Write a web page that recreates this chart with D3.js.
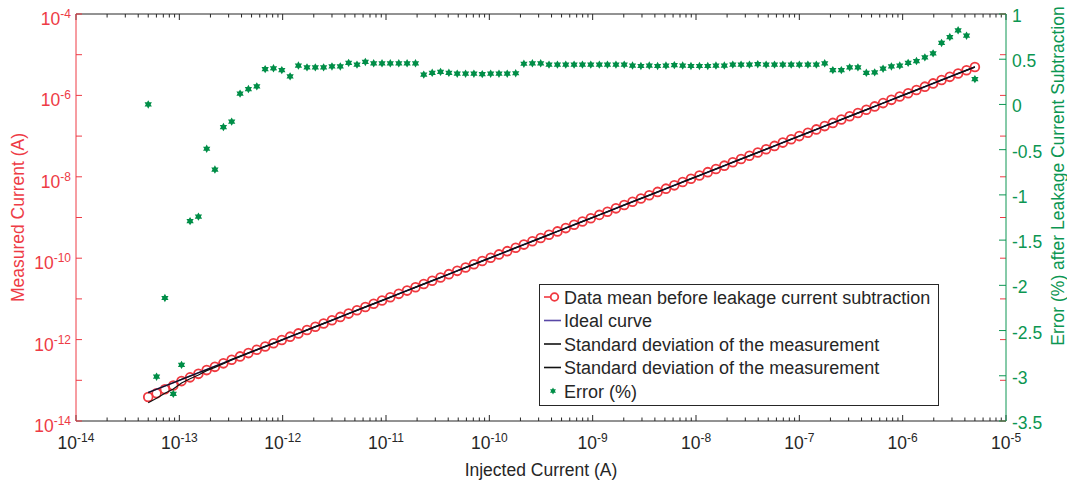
<!DOCTYPE html>
<html>
<head>
<meta charset="utf-8">
<script src="https://cdn.jsdelivr.net/npm/d3@7"></script>
<style>
  body { margin: 0; background: #fff; }
  svg text { font-family: "Liberation Sans", Arial, Helvetica, sans-serif; }
</style>
</head>
<body>
<div id="chart"></div>
<script>
// Injected current (A), log spaced sweep
const injectedCurrent = [
  5.00e-14, 6.02e-14, 7.25e-14, 8.74e-14, 1.05e-13, 1.27e-13, 1.53e-13, 1.84e-13, 2.21e-13, 2.67e-13,
  3.21e-13, 3.87e-13, 4.66e-13, 5.62e-13, 6.77e-13, 8.15e-13, 9.81e-13, 1.18e-12, 1.42e-12, 1.72e-12,
  2.07e-12, 2.49e-12, 3.00e-12, 3.61e-12, 4.35e-12, 5.24e-12, 6.31e-12, 7.60e-12, 9.15e-12, 1.10e-11,
  1.33e-11, 1.60e-11, 1.93e-11, 2.32e-11, 2.80e-11, 3.37e-11, 4.06e-11, 4.89e-11, 5.89e-11, 7.09e-11,
  8.54e-11, 1.03e-10, 1.24e-10, 1.49e-10, 1.80e-10, 2.16e-10, 2.61e-10, 3.14e-10, 3.78e-10, 4.56e-10,
  5.49e-10, 6.61e-10, 7.96e-10, 9.59e-10, 1.16e-9, 1.39e-9, 1.68e-9, 2.02e-9, 2.43e-9, 2.93e-9,
  3.53e-9, 4.25e-9, 5.12e-9, 6.17e-9, 7.43e-9, 8.94e-9, 1.08e-8, 1.30e-8, 1.56e-8, 1.88e-8,
  2.27e-8, 2.73e-8, 3.29e-8, 3.96e-8, 4.77e-8, 5.75e-8, 6.92e-8, 8.34e-8, 1.00e-7, 1.21e-7,
  1.46e-7, 1.76e-7, 2.11e-7, 2.55e-7, 3.07e-7, 3.69e-7, 4.45e-7, 5.36e-7, 6.46e-7, 7.78e-7,
  9.37e-7, 1.13e-6, 1.36e-6, 1.64e-6, 1.97e-6, 2.38e-6, 2.86e-6, 3.44e-6, 4.15e-6, 5.00e-6
];

// Measured mean before leakage subtraction (A)
const measuredMean = [
  3.90e-14, 4.82e-14, 6.02e-14, 7.43e-14, 9.56e-14, 1.18e-13, 1.44e-13, 1.78e-13, 2.14e-13, 2.61e-13,
  3.21e-13, 3.87e-13, 4.66e-13, 5.62e-13, 6.77e-13, 8.15e-13, 9.81e-13, 1.18e-12, 1.42e-12, 1.72e-12,
  2.07e-12, 2.49e-12, 3.00e-12, 3.61e-12, 4.35e-12, 5.24e-12, 6.31e-12, 7.60e-12, 9.15e-12, 1.10e-11,
  1.33e-11, 1.60e-11, 1.93e-11, 2.32e-11, 2.80e-11, 3.37e-11, 4.06e-11, 4.89e-11, 5.89e-11, 7.09e-11,
  8.54e-11, 1.03e-10, 1.24e-10, 1.49e-10, 1.80e-10, 2.16e-10, 2.61e-10, 3.14e-10, 3.78e-10, 4.56e-10,
  5.49e-10, 6.61e-10, 7.96e-10, 9.59e-10, 1.16e-9, 1.39e-9, 1.68e-9, 2.02e-9, 2.43e-9, 2.93e-9,
  3.53e-9, 4.25e-9, 5.12e-9, 6.17e-9, 7.43e-9, 8.94e-9, 1.08e-8, 1.30e-8, 1.56e-8, 1.88e-8,
  2.27e-8, 2.73e-8, 3.29e-8, 3.96e-8, 4.77e-8, 5.75e-8, 6.92e-8, 8.34e-8, 1.00e-7, 1.21e-7,
  1.46e-7, 1.76e-7, 2.11e-7, 2.55e-7, 3.07e-7, 3.69e-7, 4.45e-7, 5.36e-7, 6.46e-7, 7.78e-7,
  9.37e-7, 1.13e-6, 1.36e-6, 1.64e-6, 1.97e-6, 2.38e-6, 2.86e-6, 3.44e-6, 4.15e-6, 5.00e-6
];

// Standard deviation of the measurement, % of the mean
const stdPercent = [
  28, 25, 20.5, 17.6, 9.9, 7.5, 6.4, 3.1, 3.1, 2.0,
  1.5, 1.2, 1.0, 0.9, 0.8, 0.8, 0.8, 0.8, 0.8, 0.8,
  0.8, 0.8, 0.8, 0.8, 0.8, 0.8, 0.8, 0.8, 0.8, 0.8,
  0.8, 0.8, 0.8, 0.8, 0.8, 0.8, 0.8, 0.8, 0.8, 0.8,
  0.8, 0.8, 0.8, 0.8, 0.8, 0.8, 0.8, 0.8, 0.8, 0.8,
  0.8, 0.8, 0.8, 0.8, 0.8, 0.8, 0.8, 0.8, 0.8, 0.8,
  0.8, 0.8, 0.8, 0.8, 0.8, 0.8, 0.8, 0.8, 0.8, 0.8,
  0.8, 0.8, 0.8, 0.8, 0.8, 0.8, 0.8, 0.8, 0.8, 0.8,
  0.8, 0.8, 0.8, 0.8, 0.8, 0.8, 0.8, 0.8, 0.8, 0.8,
  0.8, 0.8, 0.8, 0.8, 0.8, 0.8, 0.8, 0.8, 0.8, 0.8
];

// Error (%) after leakage current subtraction
const errorPercent = [
  0.00, -3.01, -2.14, -3.20, -2.88, -1.29, -1.24, -0.49, -0.72, -0.25,
  -0.19, 0.12, 0.17, 0.20, 0.39, 0.40, 0.38, 0.31, 0.43, 0.41,
  0.41, 0.41, 0.42, 0.42, 0.46, 0.44, 0.47, 0.455, 0.455, 0.455,
  0.455, 0.455, 0.455, 0.33, 0.35, 0.36, 0.35, 0.34, 0.34, 0.34,
  0.335, 0.34, 0.34, 0.34, 0.345, 0.45, 0.455, 0.455, 0.44, 0.44,
  0.44, 0.44, 0.44, 0.44, 0.44, 0.44, 0.44, 0.44, 0.43, 0.425,
  0.43, 0.425, 0.43, 0.435, 0.43, 0.425, 0.425, 0.425, 0.43, 0.43,
  0.44, 0.44, 0.44, 0.445, 0.44, 0.44, 0.44, 0.44, 0.44, 0.44,
  0.44, 0.455, 0.38, 0.38, 0.41, 0.41, 0.35, 0.355, 0.395, 0.42,
  0.43, 0.46, 0.48, 0.52, 0.565, 0.68, 0.745, 0.82, 0.76, 0.28
];

// Tick labels
const xDecades = [-14, -13, -12, -11, -10, -9, -8, -7, -6, -5];
const leftDecades = [-4, -6, -8, -10, -12, -14];
const rightTicks = [1, 0.5, 0, -0.5, -1, -1.5, -2, -2.5, -3, -3.5];
const legendLabels = [
  "Data mean before leakage current subtraction",
  "Ideal curve",
  "Standard deviation of the measurement",
  "Standard deviation of the measurement",
  "Error (%)"
];

// Layout
const width = 1067, height = 484;
const plot = { left: 76, right: 1006, top: 14, bottom: 421 };

// Colours
const gray = "#262626";
const red = "#ee3b45";
const circleRed = "#f0383f";
const green = "#0c9652";
const starGreen = "#008e47";
const purple = "#5847a6";

const x = d3.scaleLog().domain([1e-14, 1e-5]).range([plot.left, plot.right]);
const yLeft = d3.scaleLog().domain([1e-14, 1e-4]).range([plot.bottom, plot.top]);
const yRight = d3.scaleLinear().domain([-3.5, 1]).range([plot.bottom, plot.top]);

const svg = d3.select("#chart")
  .append("svg")
  .attr("width", width)
  .attr("height", height)
  .style("display", "block");

svg.append("rect").attr("width", width).attr("height", height).attr("fill", "#fff");

// "10" with superscript exponent
function powLabel(text, exp) {
  text.append("tspan").text("10");
  text.append("tspan").attr("dy", -7).attr("font-size", 12).text(exp);
}

// hexagram marker path
function hexagram(r) {
  const pts = [];
  for (let k = 0; k < 12; k++) {
    const a = -Math.PI / 2 + k * Math.PI / 6;
    const rr = k % 2 === 0 ? r : r * 0.58;
    pts.push([Math.cos(a) * rr, Math.sin(a) * rr]);
  }
  return "M" + pts.map(p => p.join(",")).join("L") + "Z";
}

const isDecade = v => Math.abs(Math.log10(v) - Math.round(Math.log10(v))) < 1e-6;

// --- data layers ---
const idx = d3.range(injectedCurrent.length);

// measured mean circles
svg.append("g")
  .selectAll("circle")
  .data(idx)
  .enter()
  .append("circle")
  .attr("cx", i => x(injectedCurrent[i]))
  .attr("cy", i => yLeft(measuredMean[i]))
  .attr("r", 4.4)
  .attr("fill", "none")
  .attr("stroke", circleRed)
  .attr("stroke-width", 1.8);

// ideal curve
svg.append("path")
  .datum(idx)
  .attr("fill", "none")
  .attr("stroke", purple)
  .attr("stroke-width", 1.6)
  .attr("d", d3.line().x(i => x(injectedCurrent[i])).y(i => yLeft(injectedCurrent[i])));

// standard deviation bounds
[1, -1].forEach(sign => {
  svg.append("path")
    .datum(idx)
    .attr("fill", "none")
    .attr("stroke", "#111")
    .attr("stroke-width", 1.2)
    .attr("d", d3.line()
      .x(i => x(injectedCurrent[i]))
      .y(i => yLeft(measuredMean[i] * (1 + sign * stdPercent[i] / 100))));
});

// error points
svg.append("g")
  .selectAll("path")
  .data(idx)
  .enter()
  .append("path")
  .attr("transform", i => `translate(${x(injectedCurrent[i])},${yRight(errorPercent[i])})`)
  .attr("d", hexagram(4.2))
  .attr("fill", starGreen);

// --- axes ---
const axes = svg.append("g");

// box lines
axes.append("line").attr("x1", plot.left).attr("x2", plot.right).attr("y1", plot.bottom).attr("y2", plot.bottom)
  .attr("stroke", gray);
axes.append("line").attr("x1", plot.left).attr("x2", plot.right).attr("y1", plot.top).attr("y2", plot.top)
  .attr("stroke", gray);

// x ticks, bottom and top, pointing inward
x.ticks().forEach(v => {
  const len = isDecade(v) ? 6 : 3.5;
  const px = x(v);
  axes.append("line").attr("x1", px).attr("x2", px).attr("y1", plot.bottom).attr("y2", plot.bottom - len)
    .attr("stroke", gray);
  axes.append("line").attr("x1", px).attr("x2", px).attr("y1", plot.top).attr("y2", plot.top + len)
    .attr("stroke", gray);
});

// x tick labels
xDecades.forEach(d => {
  axes.append("text")
    .attr("x", x(Math.pow(10, d)))
    .attr("y", plot.bottom + 28)
    .attr("text-anchor", "middle")
    .attr("font-size", 17.5)
    .attr("fill", gray)
    .call(t => powLabel(t, d));
});

// left axis (red), ticks mirrored on the right edge
axes.append("line").attr("x1", plot.left).attr("x2", plot.left).attr("y1", plot.top).attr("y2", plot.bottom)
  .attr("stroke", red);
yLeft.ticks().forEach(v => {
  const len = isDecade(v) ? 6 : 3.5;
  const py = yLeft(v);
  axes.append("line").attr("x1", plot.left).attr("x2", plot.left + len).attr("y1", py).attr("y2", py)
    .attr("stroke", red);
  axes.append("line").attr("x1", plot.right).attr("x2", plot.right - len).attr("y1", py).attr("y2", py)
    .attr("stroke", red);
});
leftDecades.forEach(d => {
  axes.append("text")
    .attr("x", plot.left - 5)
    .attr("y", yLeft(Math.pow(10, d)) + 11)
    .attr("text-anchor", "end")
    .attr("font-size", 17.5)
    .attr("fill", red)
    .call(t => powLabel(t, d));
});

// right axis (green)
axes.append("line").attr("x1", plot.right).attr("x2", plot.right).attr("y1", plot.top).attr("y2", plot.bottom)
  .attr("stroke", green);
rightTicks.forEach(v => {
  const py = yRight(v);
  axes.append("line").attr("x1", plot.right).attr("x2", plot.right - 7).attr("y1", py).attr("y2", py)
    .attr("stroke", green);
  axes.append("text")
    .attr("x", plot.right + 6)
    .attr("y", py + 8)
    .attr("font-size", 17.5)
    .attr("fill", green)
    .text(v);
});

// axis titles
svg.append("text")
  .attr("x", (plot.left + plot.right) / 2)
  .attr("y", 476)
  .attr("text-anchor", "middle")
  .attr("font-size", 17.5)
  .attr("fill", gray)
  .text("Injected Current (A)");

svg.append("text")
  .attr("transform", `translate(24,${(plot.top + plot.bottom) / 2}) rotate(-90)`)
  .attr("text-anchor", "middle")
  .attr("font-size", 17.5)
  .attr("fill", red)
  .text("Measured Current (A)");

svg.append("text")
  .attr("transform", `translate(1064,176) rotate(-90)`)
  .attr("text-anchor", "middle")
  .attr("font-size", 17.5)
  .attr("fill", green)
  .text("Error (%) after Leakage Current Subtraction");

// --- legend ---
const legend = svg.append("g");
legend.append("rect")
  .attr("x", 539.5).attr("y", 284.5)
  .attr("width", 399).attr("height", 121)
  .attr("fill", "#fff")
  .attr("stroke", gray);

const rowY = i => 297 + i * 23.5;
legendLabels.forEach((label, i) => {
  const cy = rowY(i);
  if (i === 0) {
    legend.append("line").attr("x1", 544).attr("x2", 550).attr("y1", cy).attr("y2", cy)
      .attr("stroke", circleRed).attr("stroke-width", 1.6);
    legend.append("circle").attr("cx", 554.5).attr("cy", cy).attr("r", 3.8)
      .attr("fill", "none").attr("stroke", circleRed).attr("stroke-width", 1.8);
  } else if (i === 4) {
    legend.append("path").attr("transform", `translate(553,${cy})`).attr("d", hexagram(3.4))
      .attr("fill", starGreen);
  } else {
    legend.append("line").attr("x1", 544).attr("x2", 561).attr("y1", cy).attr("y2", cy)
      .attr("stroke", i === 1 ? purple : "#111").attr("stroke-width", 1.6);
  }
  legend.append("text")
    .attr("x", 564)
    .attr("y", cy + 6.5)
    .attr("font-size", 18)
    .attr("fill", gray)
    .text(label);
});
</script>
</body>
</html>
